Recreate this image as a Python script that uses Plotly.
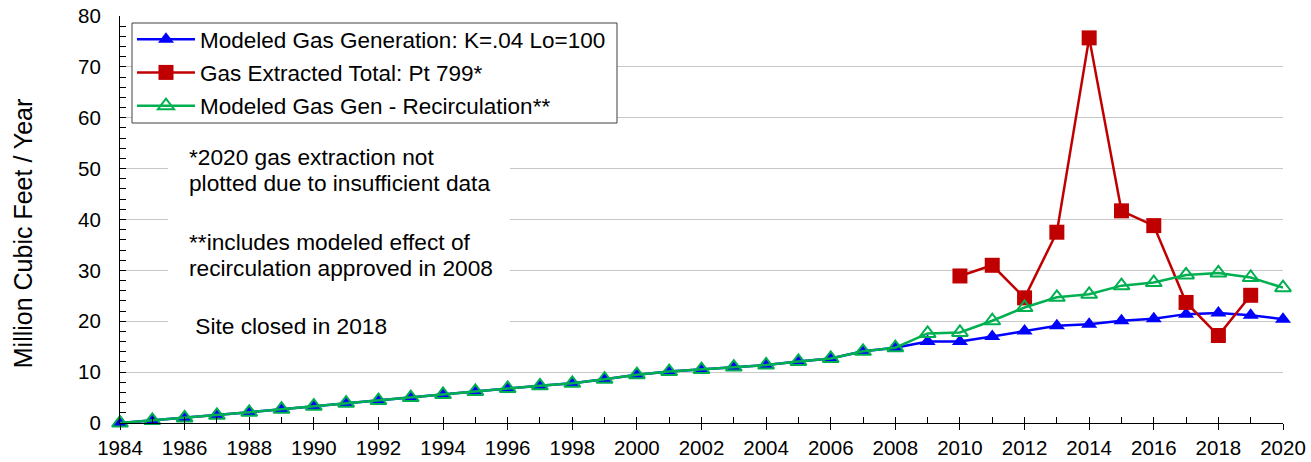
import plotly.graph_objects as go

years = list(range(1984, 2021))

modeled_gen = [0.0, 0.5, 1.0, 1.5, 2.1, 2.7, 3.3, 3.9, 4.4, 5.0, 5.6, 6.2, 6.8, 7.3,
               7.8, 8.6, 9.5, 10.1, 10.5, 11.0, 11.4, 12.1, 12.7, 14.1, 14.8,
               16.0, 16.0, 17.0, 18.1, 19.1, 19.4, 20.1, 20.5, 21.4, 21.6, 21.2, 20.4]

extract_years = list(range(2010, 2020))
extracted = [28.9, 31.0, 24.6, 37.5, 75.7, 41.7, 38.8, 23.7, 17.2, 25.1]

recirc_gen = [0.0, 0.5, 1.0, 1.5, 2.1, 2.7, 3.3, 3.9, 4.4, 5.0, 5.6, 6.2, 6.8, 7.3,
              7.8, 8.6, 9.5, 10.1, 10.5, 11.0, 11.4, 12.1, 12.7, 14.1, 14.8,
              17.6, 17.8, 20.1, 22.7, 24.7, 25.3, 27.0, 27.6, 29.1, 29.5, 28.6, 26.6]

names = ["Modeled Gas Generation: K=.04 Lo=100",
         "Gas Extracted Total: Pt 799*",
         "Modeled Gas Gen - Recirculation**"]

note_lines = ["*2020 gas extraction not",
              "plotted due to insufficient data",
              "**includes modeled effect of",
              "recirculation approved in 2008",
              " Site closed in 2018"]
note_y = [52.3, 47.1, 35.6, 30.4, 19.1]
y_title = "Million Cubic Feet / Year"

FONT = "Liberation Sans, Arial, sans-serif"

fig = go.Figure()
fig.add_trace(go.Scatter(
    x=years, y=modeled_gen, name=names[0], mode="lines+markers",
    line=dict(color="#0000FF", width=2.5),
    marker=dict(symbol="triangle-up", size=14, color="#0000FF"),
    cliponaxis=False, legendgroup="a"))
fig.add_trace(go.Scatter(
    x=extract_years, y=extracted, name=names[1], mode="lines+markers",
    line=dict(color="#C00000", width=2.5),
    marker=dict(symbol="square", size=15, color="#C00000"),
    cliponaxis=False, legendgroup="b"))
fig.add_trace(go.Scatter(
    x=years, y=recirc_gen, name=names[2], mode="lines+markers",
    line=dict(color="#00B050", width=2.5),
    marker=dict(symbol="triangle-up-open", size=14, color="#00B050",
                line=dict(width=2, color="#00B050")),
    cliponaxis=False, legendgroup="c"))

# white text panel hiding gridlines
fig.add_shape(type="rect", xref="x", yref="y",
              x0=1985.49, x1=1996.07, y0=15.4, y1=58.7,
              fillcolor="white", line=dict(width=0), layer="above")
# legend frame
fig.add_shape(type="rect", xref="paper", yref="paper",
              x0=0.01032, x1=0.42734, y0=0.7371, y1=0.9828,
              fillcolor="white", line=dict(width=1, color="#404040"), layer="above")

for txt, yy in zip(note_lines, note_y):
    fig.add_annotation(x=1986.07, y=yy, xref="x", yref="y", text=txt,
                       showarrow=False, xanchor="left", yanchor="middle", align="left",
                       font=dict(family=FONT, size=22.7, color="black"))

fig.add_annotation(x=-0.0835, y=0.466, xref="paper", yref="paper", text=y_title,
                   showarrow=False, textangle=-90, xanchor="center", yanchor="middle",
                   font=dict(family=FONT, size=25, color="black"))

fig.update_layout(
    width=1311, height=462, autosize=False,
    margin=dict(l=120, r=28, t=16, b=39, pad=0, autoexpand=False),
    paper_bgcolor="white", plot_bgcolor="white",
    font=dict(family=FONT, size=20.5, color="black"),
    showlegend=True,
    legend=dict(x=0.0103, y=0.995, xanchor="left", yanchor="top",
                bgcolor="rgba(0,0,0,0)", borderwidth=0,
                font=dict(family=FONT, size=22.5, color="black"),
                tracegroupgap=1, itemwidth=58),
    xaxis=dict(range=[1984, 2020], tickmode="linear", tick0=1984, dtick=2,
               ticks="outside", ticklen=6, tickwidth=1, tickcolor="black",
               showline=True, linecolor="black", linewidth=1,
               showgrid=False, zeroline=False, automargin=False,
               tickfont=dict(family=FONT, size=20.5, color="black")),
    xaxis2=dict(range=[1984, 2020], overlaying="x", side="bottom",
                tickmode="linear", tick0=1984, dtick=1,
                ticks="inside", ticklen=6, tickwidth=1, tickcolor="black",
                showticklabels=False, showgrid=False, zeroline=False,
                showline=False, automargin=False),
    yaxis=dict(range=[0, 80], tickmode="linear", tick0=0, dtick=10,
               ticks="inside", ticklen=6, tickwidth=1, tickcolor="black",
               showline=True, linecolor="black", linewidth=1,
               showgrid=True, gridcolor="#C8C8C8", gridwidth=1,
               zeroline=False, ticklabelstandoff=14, automargin=False,
               minor=dict(dtick=2, ticks="inside", ticklen=6, tickcolor="black",
                          showgrid=False),
               tickfont=dict(family=FONT, size=20.5, color="black")),
)

# invisible trace to activate xaxis2 ticks
fig.add_trace(go.Scatter(x=[1984], y=[0], xaxis="x2", mode="markers",
                         marker=dict(opacity=0), showlegend=False, hoverinfo="skip"))

fig.write_html("out.html", config={"displayModeBar": False},
               post_script="document.body.style.margin='0';document.body.style.padding='0';"
                           "document.body.style.overflow='hidden';")
